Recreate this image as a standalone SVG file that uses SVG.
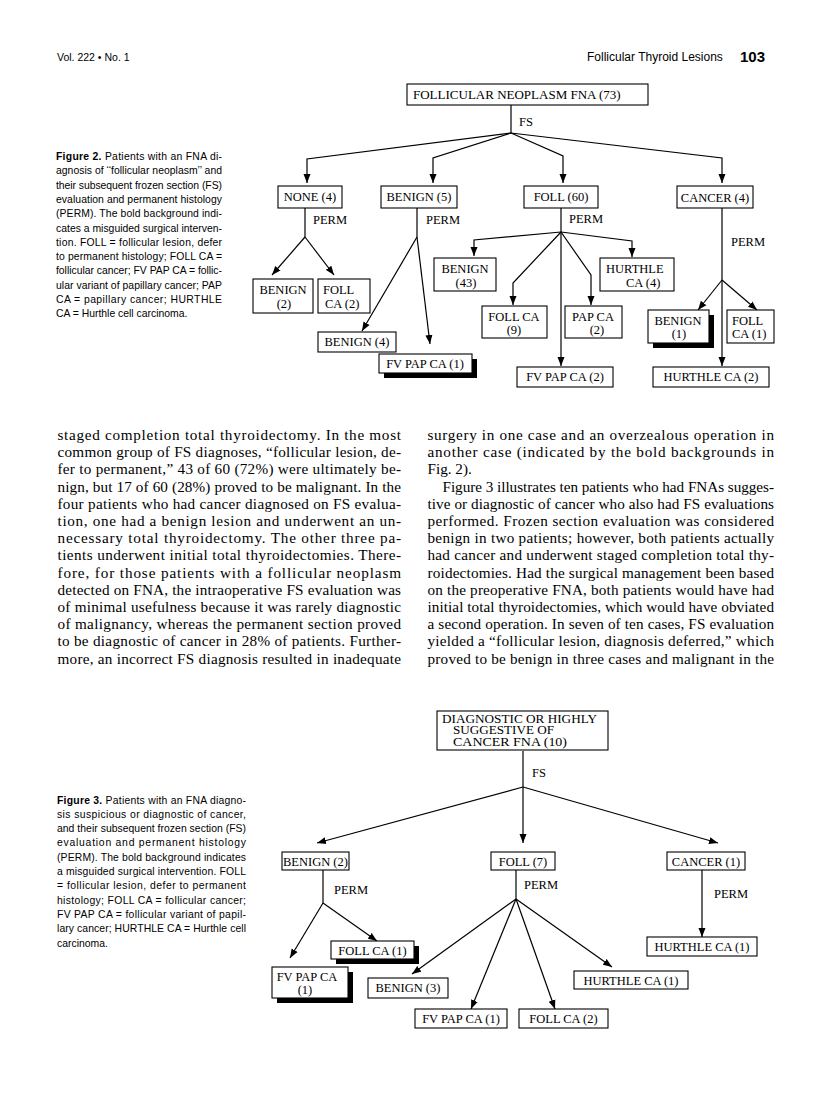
<svg xmlns="http://www.w3.org/2000/svg" width="816" height="1101" viewBox="0 0 816 1101">
<style>
.bg{fill:#fff}
.box{fill:#fff;stroke:#000;stroke-width:1.1}
.sh{fill:#000}
.lbl{font-family:"Liberation Serif","Times New Roman",serif;font-size:12.5px;fill:#000}
.lc{text-anchor:middle}
.hd{font-family:"Liberation Serif","Times New Roman",serif;font-size:13px;fill:#000}
.hd3{font-family:"Liberation Serif","Times New Roman",serif;font-size:11.5px;fill:#000}
.conn{fill:none;stroke:#000;stroke-width:1.2}
.body{font-family:"Liberation Serif","Times New Roman",serif;font-size:15.2px;fill:#000}
.cap{font-family:"Liberation Sans",Arial,sans-serif;font-size:10.4px;fill:#000}
.capb{font-weight:bold}
.run{font-family:"Liberation Sans",Arial,sans-serif;fill:#000}
</style>
<defs>
<marker id="ah" markerWidth="9" markerHeight="8" refX="9" refY="4" orient="auto" markerUnits="userSpaceOnUse">
<path d="M0,0.5 L9,4 L0,7.5 z" fill="#000"/>
</marker>
</defs>
<rect class="bg" x="0" y="0" width="816" height="1101"/>

<g id="running-head">
<text class="run" x="57" y="61" font-size="10.5">Vol. 222 • No. 1</text>
<text class="run" x="587" y="61" font-size="12">Follicular Thyroid Lesions</text>
<text class="run" x="740" y="62" font-size="15" font-weight="bold">103</text>
</g>

<g id="fig2-caption">
<text class="cap" x="56" y="160" textLength="166" lengthAdjust="spacing"><tspan class="capb">Figure 2.</tspan> Patients with an FNA di-</text>
<text class="cap" x="56" y="174.3" textLength="166" lengthAdjust="spacing">agnosis of ‘‘follicular neoplasm’’ and</text>
<text class="cap" x="56" y="188.6" textLength="166" lengthAdjust="spacing">their subsequent frozen section (FS)</text>
<text class="cap" x="56" y="202.9" textLength="166" lengthAdjust="spacing">evaluation and permanent histology</text>
<text class="cap" x="56" y="217.2" textLength="166" lengthAdjust="spacing">(PERM). The bold background indi-</text>
<text class="cap" x="56" y="231.5" textLength="166" lengthAdjust="spacing">cates a misguided surgical interven-</text>
<text class="cap" x="56" y="245.8" textLength="166" lengthAdjust="spacing">tion. FOLL = follicular lesion, defer</text>
<text class="cap" x="56" y="260.1" textLength="166" lengthAdjust="spacing">to permanent histology; FOLL CA =</text>
<text class="cap" x="56" y="274.4" textLength="166" lengthAdjust="spacing">follicular cancer; FV PAP CA = follic-</text>
<text class="cap" x="56" y="288.7" textLength="166" lengthAdjust="spacing">ular variant of papillary cancer; PAP</text>
<text class="cap" x="56" y="303" textLength="166" lengthAdjust="spacing">CA = papillary cancer; HURTHLE</text>
<text class="cap" x="56" y="317.3">CA = Hurthle cell carcinoma.</text>
</g>

<g id="fig2-connectors">
<path class="conn" d="M511,105 V133"/>
<text class="lbl" x="519" y="126">FS</text>
<path class="conn" marker-end="url(#ah)" d="M511,133 L307,159 V183"/>
<path class="conn" marker-end="url(#ah)" d="M511,133 L433,158 V183"/>
<path class="conn" marker-end="url(#ah)" d="M511,133 L563,156 V183"/>
<path class="conn" marker-end="url(#ah)" d="M511,133 L722,158 V183"/>

<path class="conn" d="M305,208 V237"/>
<text class="lbl" x="313" y="224">PERM</text>
<path class="conn" marker-end="url(#ah)" d="M305,237 L272,275"/>
<path class="conn" marker-end="url(#ah)" d="M305,237 L334,275"/>

<path class="conn" d="M417,208 V237"/>
<text class="lbl" x="426" y="224">PERM</text>
<path class="conn" marker-end="url(#ah)" d="M417,237 L362,331"/>
<path class="conn" marker-end="url(#ah)" d="M417,237 L430,344"/>

<path class="conn" d="M561,208 V232"/>
<text class="lbl" x="569" y="223">PERM</text>
<path class="conn" marker-end="url(#ah)" d="M561,232 L474,240 V256"/>
<path class="conn" marker-end="url(#ah)" d="M561,232 L513,283 V305"/>
<path class="conn" marker-end="url(#ah)" d="M561,232 L591,275 V305"/>
<path class="conn" marker-end="url(#ah)" d="M561,232 L632,241 V257"/>
<path class="conn" marker-end="url(#ah)" d="M561,232 V366"/>

<path class="conn" marker-end="url(#ah)" d="M722,208 V366"/>
<text class="lbl" x="731" y="246">PERM</text>
<path class="conn" marker-end="url(#ah)" d="M722,280 L698,310"/>
<path class="conn" marker-end="url(#ah)" d="M722,280 L757,310"/>
</g>

<g id="f2-root">
<rect class="box" x="407" y="84" width="241" height="21"/>
<text class="hd" x="413" y="99">FOLLICULAR NEOPLASM FNA (73)</text>
</g>
<g id="f2-none">
<rect class="box" x="278" y="186" width="64" height="22"/>
<text class="lbl lc" x="310" y="201">NONE (4)</text>
</g>
<g id="f2-benign5">
<rect class="box" x="381" y="186" width="76" height="22"/>
<text class="lbl lc" x="419" y="201">BENIGN (5)</text>
</g>
<g id="f2-foll60">
<rect class="box" x="524" y="186" width="74" height="22"/>
<text class="lbl lc" x="561" y="201">FOLL (60)</text>
</g>
<g id="f2-cancer4">
<rect class="box" x="677" y="186" width="76" height="22"/>
<text class="lbl lc" x="715" y="202">CANCER (4)</text>
</g>
<g id="f2-benign2">
<rect class="box" x="253" y="279" width="60" height="34"/>
<text class="lbl lc" x="283" y="294">BENIGN</text>
<text class="lbl lc" x="284" y="308">(2)</text>
</g>
<g id="f2-follca2">
<rect class="box" x="318" y="279" width="52" height="34"/>
<text class="lbl" x="323" y="294">FOLL</text>
<text class="lbl" x="325" y="308">CA (2)</text>
</g>
<g id="f2-benign4">
<rect class="box" x="318" y="332" width="78" height="20"/>
<text class="lbl lc" x="357" y="346">BENIGN (4)</text>
</g>
<g id="f2-fvpapca1">
<rect class="sh" x="384" y="359" width="93" height="19"/>
<rect class="box" x="379" y="354" width="93" height="19"/>
<text class="lbl lc" x="425" y="368">FV PAP CA (1)</text>
</g>
<g id="f2-benign43">
<rect class="box" x="434" y="258" width="62" height="33"/>
<text class="lbl lc" x="465" y="273">BENIGN</text>
<text class="lbl lc" x="466" y="287">(43)</text>
</g>
<g id="f2-follca9">
<rect class="box" x="482" y="306" width="65" height="32"/>
<text class="lbl lc" x="514" y="321">FOLL CA</text>
<text class="lbl lc" x="514" y="334">(9)</text>
</g>
<g id="f2-papca2">
<rect class="box" x="565" y="306" width="57" height="32"/>
<text class="lbl lc" x="593" y="321">PAP CA</text>
<text class="lbl lc" x="597" y="334">(2)</text>
</g>
<g id="f2-hurthle4">
<rect class="box" x="600" y="258" width="74" height="33"/>
<text class="lbl" x="606" y="273">HURTHLE</text>
<text class="lbl" x="626" y="287">CA (4)</text>
</g>
<g id="f2-fvpapca2">
<rect class="box" x="517" y="367" width="96" height="20"/>
<text class="lbl lc" x="565" y="381">FV PAP CA (2)</text>
</g>
<g id="f2-benign1">
<rect class="sh" x="653" y="315" width="61" height="33"/>
<rect class="box" x="648" y="310" width="61" height="33"/>
<text class="lbl lc" x="678" y="325">BENIGN</text>
<text class="lbl lc" x="679" y="338">(1)</text>
</g>
<g id="f2-follca1">
<rect class="box" x="727" y="310" width="47" height="33"/>
<text class="lbl" x="732" y="325">FOLL</text>
<text class="lbl" x="732" y="338">CA (1)</text>
</g>
<g id="f2-hurthle2">
<rect class="box" x="653" y="367" width="116" height="20"/>
<text class="lbl lc" x="711" y="381">HURTHLE CA (2)</text>
</g>

<g id="body-left">
<text class="body" x="57.5" y="440" textLength="343.5" lengthAdjust="spacing">staged completion total thyroidectomy. In the most</text>
<text class="body" x="57.5" y="457.2" textLength="343.5" lengthAdjust="spacing">common group of FS diagnoses, “follicular lesion, de-</text>
<text class="body" x="57.5" y="474.4" textLength="343.5" lengthAdjust="spacing">fer to permanent,” 43 of 60 (72%) were ultimately be-</text>
<text class="body" x="57.5" y="491.6" textLength="343.5" lengthAdjust="spacing">nign, but 17 of 60 (28%) proved to be malignant. In the</text>
<text class="body" x="57.5" y="508.8" textLength="343.5" lengthAdjust="spacing">four patients who had cancer diagnosed on FS evalua-</text>
<text class="body" x="57.5" y="526" textLength="343.5" lengthAdjust="spacing">tion, one had a benign lesion and underwent an un-</text>
<text class="body" x="57.5" y="543.2" textLength="343.5" lengthAdjust="spacing">necessary total thyroidectomy. The other three pa-</text>
<text class="body" x="57.5" y="560.4" textLength="343.5" lengthAdjust="spacing">tients underwent initial total thyroidectomies. There-</text>
<text class="body" x="57.5" y="577.6" textLength="343.5" lengthAdjust="spacing">fore, for those patients with a follicular neoplasm</text>
<text class="body" x="57.5" y="594.8" textLength="343.5" lengthAdjust="spacing">detected on FNA, the intraoperative FS evaluation was</text>
<text class="body" x="57.5" y="612" textLength="343.5" lengthAdjust="spacing">of minimal usefulness because it was rarely diagnostic</text>
<text class="body" x="57.5" y="629.2" textLength="343.5" lengthAdjust="spacing">of malignancy, whereas the permanent section proved</text>
<text class="body" x="57.5" y="646.4" textLength="343.5" lengthAdjust="spacing">to be diagnostic of cancer in 28% of patients. Further-</text>
<text class="body" x="57.5" y="663.6" textLength="343.5" lengthAdjust="spacing">more, an incorrect FS diagnosis resulted in inadequate</text>
</g>

<g id="body-right">
<text class="body" x="427.5" y="440" textLength="346.5" lengthAdjust="spacing">surgery in one case and an overzealous operation in</text>
<text class="body" x="427.5" y="457.2" textLength="346.5" lengthAdjust="spacing">another case (indicated by the bold backgrounds in</text>
<text class="body" x="427.5" y="474.4">Fig. 2).</text>
<text class="body" x="442.5" y="491.6" textLength="331.5" lengthAdjust="spacing">Figure 3 illustrates ten patients who had FNAs sugges-</text>
<text class="body" x="427.5" y="508.8" textLength="346.5" lengthAdjust="spacing">tive or diagnostic of cancer who also had FS evaluations</text>
<text class="body" x="427.5" y="526" textLength="346.5" lengthAdjust="spacing">performed. Frozen section evaluation was considered</text>
<text class="body" x="427.5" y="543.2" textLength="346.5" lengthAdjust="spacing">benign in two patients; however, both patients actually</text>
<text class="body" x="427.5" y="560.4" textLength="346.5" lengthAdjust="spacing">had cancer and underwent staged completion total thy-</text>
<text class="body" x="427.5" y="577.6" textLength="346.5" lengthAdjust="spacing">roidectomies. Had the surgical management been based</text>
<text class="body" x="427.5" y="594.8" textLength="346.5" lengthAdjust="spacing">on the preoperative FNA, both patients would have had</text>
<text class="body" x="427.5" y="612" textLength="346.5" lengthAdjust="spacing">initial total thyroidectomies, which would have obviated</text>
<text class="body" x="427.5" y="629.2" textLength="346.5" lengthAdjust="spacing">a second operation. In seven of ten cases, FS evaluation</text>
<text class="body" x="427.5" y="646.4" textLength="346.5" lengthAdjust="spacing">yielded a “follicular lesion, diagnosis deferred,” which</text>
<text class="body" x="427.5" y="663.6" textLength="346.5" lengthAdjust="spacing">proved to be benign in three cases and malignant in the</text>
</g>

<g id="fig3-caption">
<text class="cap" x="57" y="803.5" textLength="189" lengthAdjust="spacing"><tspan class="capb">Figure 3.</tspan> Patients with an FNA diagno-</text>
<text class="cap" x="57" y="817.8" textLength="189" lengthAdjust="spacing">sis suspicious or diagnostic of cancer,</text>
<text class="cap" x="57" y="832.1" textLength="189" lengthAdjust="spacing">and their subsequent frozen section (FS)</text>
<text class="cap" x="57" y="846.4" textLength="189" lengthAdjust="spacing">evaluation and permanent histology</text>
<text class="cap" x="57" y="860.7" textLength="189" lengthAdjust="spacing">(PERM). The bold background indicates</text>
<text class="cap" x="57" y="875" textLength="189" lengthAdjust="spacing">a misguided surgical intervention. FOLL</text>
<text class="cap" x="57" y="889.3" textLength="189" lengthAdjust="spacing">= follicular lesion, defer to permanent</text>
<text class="cap" x="57" y="903.6" textLength="189" lengthAdjust="spacing">histology; FOLL CA = follicular cancer;</text>
<text class="cap" x="57" y="917.9" textLength="189" lengthAdjust="spacing">FV PAP CA = follicular variant of papil-</text>
<text class="cap" x="57" y="932.2" textLength="189" lengthAdjust="spacing">lary cancer; HURTHLE CA = Hurthle cell</text>
<text class="cap" x="57" y="946.5">carcinoma.</text>
</g>

<g id="fig3-connectors">
<path class="conn" d="M523,751 V787"/>
<text class="lbl" x="532" y="777">FS</text>
<path class="conn" marker-end="url(#ah)" d="M523,787 L317,843"/>
<path class="conn" marker-end="url(#ah)" d="M523,787 V843"/>
<path class="conn" marker-end="url(#ah)" d="M523,787 L718,843"/>

<path class="conn" d="M323,870 V903"/>
<text class="lbl" x="334" y="894">PERM</text>
<path class="conn" marker-end="url(#ah)" d="M323,903 L290,958"/>
<path class="conn" marker-end="url(#ah)" d="M323,903 L377,941"/>

<path class="conn" d="M516,870 V899"/>
<text class="lbl" x="524" y="889">PERM</text>
<path class="conn" marker-end="url(#ah)" d="M516,899 L412,974"/>
<path class="conn" marker-end="url(#ah)" d="M516,899 L471,1009"/>
<path class="conn" marker-end="url(#ah)" d="M516,899 L555,1009"/>
<path class="conn" marker-end="url(#ah)" d="M516,899 L612,967"/>

<path class="conn" marker-end="url(#ah)" d="M702,870 V937"/>
<text class="lbl" x="714" y="898">PERM</text>
</g>

<g id="f3-root">
<rect class="box" x="437" y="711" width="171" height="39"/>
<text class="hd3" x="442" y="722.5" textLength="155" lengthAdjust="spacingAndGlyphs">DIAGNOSTIC OR HIGHLY</text>
<text class="hd3" x="453" y="734" textLength="101" lengthAdjust="spacingAndGlyphs">SUGGESTIVE OF</text>
<text class="hd3" x="453" y="745.5" textLength="114" lengthAdjust="spacingAndGlyphs">CANCER FNA (10)</text>
</g>
<g id="f3-benign2">
<rect class="box" x="282" y="852" width="67" height="18"/>
<text class="lbl lc" x="315.5" y="865.5">BENIGN (2)</text>
</g>
<g id="f3-foll7">
<rect class="box" x="491" y="852" width="64" height="18"/>
<text class="lbl lc" x="523" y="865.5">FOLL (7)</text>
</g>
<g id="f3-cancer1">
<rect class="box" x="667" y="852" width="78" height="18"/>
<text class="lbl lc" x="706" y="865.5">CANCER (1)</text>
</g>
<g id="f3-follca1">
<rect class="sh" x="336" y="946" width="83" height="18"/>
<rect class="box" x="331" y="941" width="83" height="18"/>
<text class="lbl lc" x="372.5" y="954.5">FOLL CA (1)</text>
</g>
<g id="f3-fvpapca1a">
<rect class="sh" x="277" y="972" width="76" height="31"/>
<rect class="box" x="272" y="967" width="76" height="31"/>
<text class="lbl lc" x="307" y="980.5">FV PAP CA</text>
<text class="lbl lc" x="305" y="994">(1)</text>
</g>
<g id="f3-benign3">
<rect class="box" x="368" y="978" width="80" height="20"/>
<text class="lbl lc" x="408" y="992">BENIGN (3)</text>
</g>
<g id="f3-fvpapca1b">
<rect class="box" x="415" y="1009" width="92" height="19"/>
<text class="lbl lc" x="461" y="1023">FV PAP CA (1)</text>
</g>
<g id="f3-follca2">
<rect class="box" x="519" y="1009" width="89" height="19"/>
<text class="lbl lc" x="563.5" y="1023">FOLL CA (2)</text>
</g>
<g id="f3-hurthle1a">
<rect class="box" x="574" y="971" width="114" height="18"/>
<text class="lbl lc" x="631" y="984.5">HURTHLE CA (1)</text>
</g>
<g id="f3-hurthle1b">
<rect class="box" x="647" y="937" width="110" height="19"/>
<text class="lbl lc" x="702" y="951">HURTHLE CA (1)</text>
</g>
</svg>
